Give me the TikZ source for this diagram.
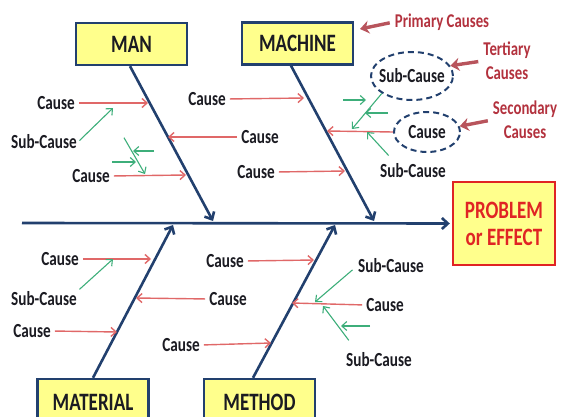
\documentclass[tikz,border=0pt]{standalone}
\usepackage{fontspec}
\setmainfont{Carlito}[FakeStretch=0.76]
\usetikzlibrary{arrows.meta,shapes.geometric}
\definecolor{bone}{HTML}{22406E}
\definecolor{ink}{HTML}{1B1B22}
\definecolor{boxfill}{HTML}{FFFF8C}
\definecolor{causered}{HTML}{E06868}
\definecolor{subgreen}{HTML}{3DAE7A}
\definecolor{probred}{HTML}{E02424}
\definecolor{notered}{HTML}{B3323E}
\definecolor{notearrow}{HTML}{B8545C}
\begin{document}
\begin{tikzpicture}[x=1pt,y=-1pt,
  catbox/.style={draw=bone, line width=2.4pt, fill=boxfill, minimum width=111pt,
    minimum height=42pt, inner sep=0pt, text=ink,
    font=\fontsize{25}{28}\selectfont\bfseries},
  probbox/.style={draw=probred, line width=2.4pt, fill=boxfill, minimum width=102pt,
    minimum height=83pt, inner sep=0pt, text=probred, align=center,
    font=\fontsize{25}{28}\selectfont\bfseries},
  lbl/.style={font=\fontsize{20}{24}\selectfont\bfseries, text=ink, inner sep=1pt},
  note/.style={font=\fontsize{19.5}{24}\selectfont\bfseries, text=notered, inner sep=1pt, align=center},
  bonestyle/.style={draw=bone, line width=2.6pt, -{Straight Barb[length=6pt,width=11pt]}},
  causearrow/.style={draw=causered, line width=1.4pt, shorten <=3pt,
    -{Straight Barb[length=5pt,width=9pt]}},
  subarrow/.style={draw=subgreen, line width=1.1pt, shorten <=2pt,
    -{Straight Barb[length=5pt,width=9pt]}},
  notearrowstyle/.style={draw=notearrow, line width=3.4pt, shorten <=4pt,
    -{Stealth[length=9pt,width=13pt]}},
  ring/.style={ellipse, draw=bone, line width=2pt, dash pattern=on 6pt off 4pt, inner sep=0pt}
]
\useasboundingbox (0,0) rectangle (573,417);

% category boxes and effect box
\node[catbox] (MAN)  at (131.5,44) {MAN};
\node[catbox] (MACH) at (297.5,43.5) {MACHINE};
\node[catbox, minimum height=46pt] (MAT)  at (93,402) {MATERIAL};
\node[catbox, minimum height=46pt] (METH) at (259.5,402) {METHOD};
\node[probbox] (PROB) at (504,223.5) {PROBLEM\\[-1pt]or EFFECT};

% spine and main bones
\coordinate (spineL) at (22,223);
\coordinate (manhead) at (213,221);
\coordinate (machhead) at (374,221);
\coordinate (mathead) at (173,225);
\coordinate (methhead) at (335,225);
\draw[bonestyle] (spineL) -- ([xshift=-2pt]PROB.west);
\draw[bonestyle] ([xshift=-1.5pt]MAN.south) -- (manhead);
\draw[bonestyle] ([xshift=-6.5pt]MACH.south) -- (machhead);
\draw[bonestyle] (MAT.north) -- (mathead);
\draw[bonestyle] ([xshift=-6.5pt]METH.north) -- (methhead);

% ---- MAN branch
\node[lbl] (a1) at (56,103) {Cause};
\coordinate (a1t) at (148,103);
\draw[causearrow] (a1.east) -- (a1t);
\node[lbl] (a1s) at (44,142) {Sub-Cause};
\coordinate (a1st) at (113,108);
\draw[subarrow] (a1s.east) -- (a1st);
\node[lbl] (a2) at (91,176) {Cause};
\coordinate (a2t) at (186,175);
\draw[causearrow] (a2.east) -- (a2t);
\coordinate (a2g0) at (123,136);
\coordinate (a2g1) at (145,174);
\draw[subarrow] (a2g0) -- (a2g1);
\coordinate (a2h0) at (156,151);
\coordinate (a2h1) at (133,151);
\draw[subarrow] (a2h0) -- (a2h1);
\coordinate (a2k0) at (110,162);
\coordinate (a2k1) at (136,162);
\draw[subarrow] (a2k0) -- (a2k1);
\node[lbl] (a3) at (260,137) {Cause};
\coordinate (a3t) at (168,137);
\draw[causearrow] (a3.west) -- (a3t);

% ---- MACHINE branch
\node[lbl] (b1) at (207,99) {Cause};
\coordinate (b1t) at (304,98);
\draw[causearrow] (b1.east) -- (b1t);
\node[lbl] (b2) at (256,172) {Cause};
\coordinate (b2t) at (345,171);
\draw[causearrow] (b2.east) -- (b2t);
\node[ring, minimum width=66pt, minimum height=40pt] (b3) at (427,132) {};
\node[lbl] (b3l) at (b3) {Cause};
\coordinate (b3t) at (327,131);
\draw[causearrow, shorten <=0pt] (b3.west) -- (b3t);
\node[ring, minimum width=82pt, minimum height=48pt] (b4) at (412,76) {};
\node[lbl] (b4l) at (b4) {Sub-Cause};
\coordinate (b4t) at (352,129);
\draw[subarrow, shorten <=0pt] (b4.210) -- (b4t);
\coordinate (b4h0) at (341,100);
\coordinate (b4h1) at (366,100);
\draw[subarrow] (b4h0) -- (b4h1);
\coordinate (b4k0) at (390,113);
\coordinate (b4k1) at (365,113);
\draw[subarrow] (b4k0) -- (b4k1);
\node[lbl] (b5) at (413,171) {Sub-Cause};
\coordinate (b5s) at (390,157);
\coordinate (b5t) at (367,132);
\draw[subarrow] (b5s) -- (b5t);

% ---- level notes
\node[note] (pc) at (442,22) {Primary Causes};
\coordinate (pct) at (360,29);
\draw[notearrowstyle] (pc.west) -- (pct);
\node[note] (tc) at (507,61) {Tertiary\\Causes};
\draw[notearrowstyle] (tc.west) -- (b4.15);
\node[note] (sc) at (525,120) {Secondary\\Causes};
\draw[notearrowstyle] (sc.west) -- (b3.10);

% ---- MATERIAL branch
\node[lbl] (d1) at (60,259) {Cause};
\coordinate (d1t) at (151,259);
\draw[causearrow] (d1.east) -- (d1t);
\node[lbl] (d1s) at (44,299) {Sub-Cause};
\coordinate (d1st) at (113,259);
\draw[subarrow] (d1s.north east) -- (d1st);
\node[lbl] (d2) at (32,331) {Cause};
\coordinate (d2t) at (117,332);
\draw[causearrow] (d2.east) -- (d2t);
\node[lbl] (d3) at (228,299) {Cause};
\coordinate (d3t) at (136,298);
\draw[causearrow] (d3.west) -- (d3t);
\node[lbl] (d4) at (181,345) {Cause};
\coordinate (d4t) at (271,343);
\draw[causearrow] (d4.east) -- (d4t);

% ---- METHOD branch
\node[lbl] (e1) at (225,261) {Cause};
\coordinate (e1t) at (314,260);
\draw[causearrow] (e1.east) -- (e1t);
\node[lbl] (e2) at (385,305) {Cause};
\coordinate (e2t) at (292,303);
\draw[causearrow] (e2.west) -- (e2t);
\node[lbl] (e2a) at (391,266) {Sub-Cause};
\coordinate (e2at) at (315,302);
\draw[subarrow, shorten <=6pt] (e2a.west) -- (e2at);
\node[lbl] (e2b) at (379,360) {Sub-Cause};
\coordinate (e2bs) at (350,342);
\coordinate (e2bt) at (323,306);
\draw[subarrow] (e2bs) -- (e2bt);
\coordinate (e2k0) at (372,326);
\coordinate (e2k1) at (341,326);
\draw[subarrow] (e2k0) -- (e2k1);
\end{tikzpicture}
\end{document}
